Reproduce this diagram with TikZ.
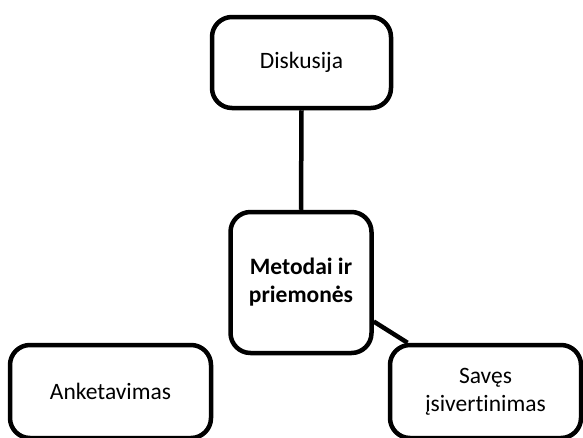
\documentclass[tikz,border=0pt]{standalone}
\usepackage{fontspec}
\setmainfont{Carlito}[Ligatures=NoCommon]
\begin{document}
\begin{tikzpicture}[x=1pt,y=-1pt,
  box/.style={draw=black,line width=4.5pt,rounded corners=20pt,fill=white,
    align=center,inner sep=0pt,font=\fontsize{23.5}{28}\selectfont},
  link/.style={draw=black,line width=4.5pt}]
\useasboundingbox (0,0) rectangle (583,437);
\clip (0,0) rectangle (583,437);
\node[box,minimum width=179pt,minimum height=91pt] (d) at (301.5,62.5) {Diskusija};
\node[box,minimum width=141pt,minimum height=141pt,font=\fontsize{23.5}{28}\selectfont\bfseries] (m) at (301,282.5) {Metodai ir\\priemonės};
\node[box,minimum width=201pt,minimum height=93pt] (a) at (110.5,391.5) {Anketavimas};
\node[box,minimum width=191pt,minimum height=93pt] (s) at (485.5,391.5) {Savęs\\įsivertinimas};
\draw[link] (d.south) -- (m.north);
\draw[link] ([yshift=-39pt]m.east) -- ([xshift=-78pt]s.north);
\end{tikzpicture}
\end{document}
